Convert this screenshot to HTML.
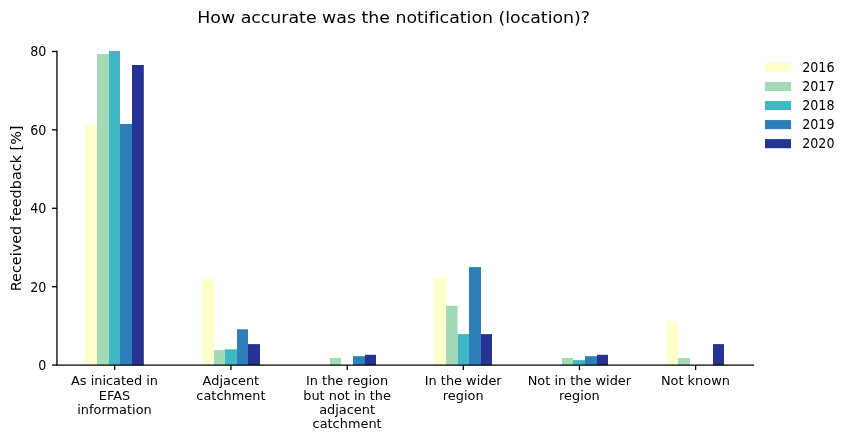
<!DOCTYPE html>
<html lang="en">
<head>
<meta charset="utf-8">
<title>How accurate was the notification (location)?</title>
<style>
html,body{margin:0;padding:0;background:#fff;}
body{width:850px;height:441px;overflow:hidden;}
svg{display:block;}
svg text{font-family:"DejaVu Sans","Liberation Sans",sans-serif;fill:#000;font-variant-ligatures:none;}
.tk{font-size:13.02px;}
.ttl{font-size:16.7px;}
.yl{font-size:14.3px;}
</style>
</head>
<body>
<svg width="850" height="441" viewBox="0 0 850 441">
<rect x="0" y="0" width="850" height="441" fill="#ffffff"/>
<g>
<rect x="85.3" y="125" width="11.7" height="240.1" fill="#ffffcc"/>
<rect x="97" y="54" width="12" height="311.1" fill="#a1dab4"/>
<rect x="109" y="51" width="11" height="314.1" fill="#41b6c4"/>
<rect x="120" y="124" width="12" height="241.1" fill="#2c7fb8"/>
<rect x="132" y="65" width="11.8" height="300.1" fill="#253494"/>
<rect x="202" y="278" width="12" height="87.1" fill="#ffffcc"/>
<rect x="214" y="350" width="11" height="15.1" fill="#a1dab4"/>
<rect x="225" y="349.3" width="12" height="15.8" fill="#41b6c4"/>
<rect x="237" y="329.3" width="11" height="35.8" fill="#2c7fb8"/>
<rect x="248" y="344.1" width="12" height="21" fill="#253494"/>
<rect x="330" y="358" width="11" height="7.1" fill="#a1dab4"/>
<rect x="353" y="356.2" width="12" height="8.9" fill="#2c7fb8"/>
<rect x="365" y="354.8" width="11" height="10.3" fill="#253494"/>
<rect x="434" y="278" width="12" height="87.1" fill="#ffffcc"/>
<rect x="446" y="305.8" width="11.6" height="59.3" fill="#a1dab4"/>
<rect x="457.6" y="334.1" width="11.4" height="31" fill="#41b6c4"/>
<rect x="469" y="267.1" width="12" height="98" fill="#2c7fb8"/>
<rect x="481" y="334.1" width="11" height="31" fill="#253494"/>
<rect x="562" y="358" width="11" height="7.1" fill="#a1dab4"/>
<rect x="573" y="360.1" width="12" height="5" fill="#41b6c4"/>
<rect x="585" y="356.2" width="12" height="8.9" fill="#2c7fb8"/>
<rect x="597" y="354.8" width="11" height="10.3" fill="#253494"/>
<rect x="666.3" y="321.4" width="11.7" height="43.7" fill="#ffffcc"/>
<rect x="678" y="358" width="12" height="7.1" fill="#a1dab4"/>
<rect x="713" y="344.1" width="11" height="21" fill="#253494"/>
</g>
<g stroke="#000" stroke-width="1.30" fill="none">
<path d="M56.95 51.45 V365.10 H753.30" stroke-width="1.3" stroke-linecap="square"/>
<path d="M114.65 365.10 v5.00"/>
<path d="M230.95 365.10 v5.00"/>
<path d="M347.20 365.10 v5.00"/>
<path d="M463.30 365.10 v5.00"/>
<path d="M579.45 365.10 v5.00"/>
<path d="M695.60 365.10 v5.00"/>
<path d="M56.95 365.10 h-5.00"/>
<path d="M56.95 286.69 h-5.00"/>
<path d="M56.95 208.28 h-5.00"/>
<path d="M56.95 129.86 h-5.00"/>
<path d="M56.95 51.45 h-5.00"/>
</g>
<g class="tk" text-anchor="end">
<text transform="translate(46.40 370) scale(0.975 1.06)">0</text>
<text transform="translate(46.40 292) scale(0.975 1.06)">20</text>
<text transform="translate(46.40 213) scale(0.975 1.06)">40</text>
<text transform="translate(46.40 135) scale(0.975 1.06)">60</text>
<text transform="translate(46.40 56) scale(0.975 1.06)">80</text>
</g>
<g class="tk" text-anchor="middle">
<text transform="translate(114.50 385.00) scale(0.992 1)">As inicated in</text>
<text transform="translate(114.50 400.00) scale(0.992 1)">EFAS</text>
<text transform="translate(114.50 414.00) scale(0.992 1)">information</text>
<text transform="translate(230.90 385.00) scale(0.992 1)">Adjacent</text>
<text transform="translate(230.90 400.00) scale(0.992 1)">catchment</text>
<text transform="translate(347.10 385.00) scale(0.992 1)">In the region</text>
<text transform="translate(347.10 400.00) scale(0.992 1)">but not in the</text>
<text transform="translate(347.10 414.00) scale(0.992 1)">adjacent</text>
<text transform="translate(347.10 428.00) scale(0.992 1)">catchment</text>
<text transform="translate(463.20 385.00) scale(0.992 1)">In the wider</text>
<text transform="translate(463.20 400.00) scale(0.992 1)">region</text>
<text transform="translate(579.40 385.00) scale(0.992 1)">Not in the wider</text>
<text transform="translate(579.40 400.00) scale(0.992 1)">region</text>
<text transform="translate(695.40 385.00) scale(0.992 1)">Not known</text>
</g>
<text class="yl" text-anchor="middle" transform="translate(20.6 208.4) rotate(-90) scale(1.008 1)">Received feedback [%]</text>
<text class="ttl" transform="translate(197.3 23.3) scale(1.04 1)">How accurate was the notification (location)?</text>
<g class="tk">
<rect x="765" y="62.90" width="26.05" height="9.1" fill="#ffffcc"/>
<text transform="translate(802.2 72) scale(0.975 1.03)">2016</text>
<rect x="765" y="81.95" width="26.05" height="9.1" fill="#a1dab4"/>
<text transform="translate(802.2 91) scale(0.975 1.03)">2017</text>
<rect x="765" y="101.00" width="26.05" height="9.1" fill="#41b6c4"/>
<text transform="translate(802.2 110) scale(0.975 1.03)">2018</text>
<rect x="765" y="120.05" width="26.05" height="9.1" fill="#2c7fb8"/>
<text transform="translate(802.2 129) scale(0.975 1.03)">2019</text>
<rect x="765" y="139.10" width="26.05" height="9.1" fill="#253494"/>
<text transform="translate(802.2 148) scale(0.975 1.03)">2020</text>
</g>
</svg>
</body>
</html>
